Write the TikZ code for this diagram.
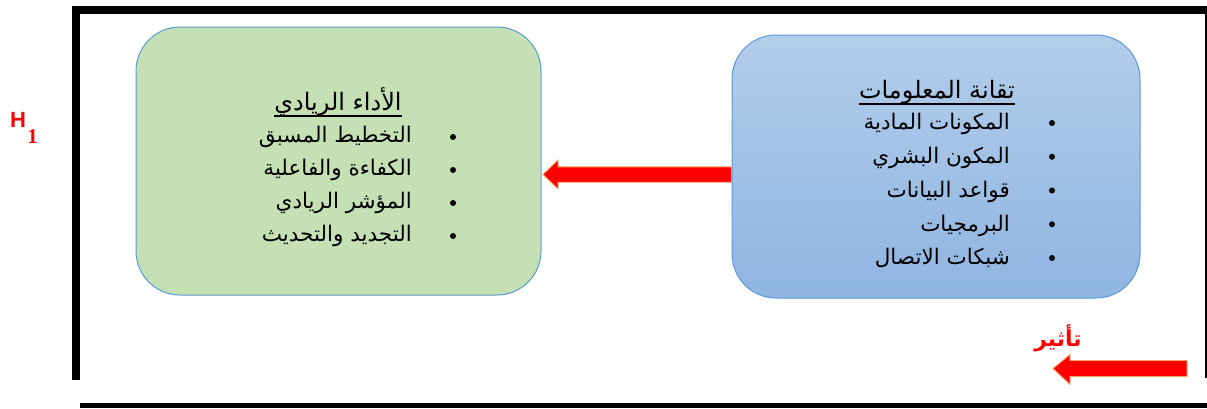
\documentclass[tikz,border=0pt]{standalone}
\usepackage{fontspec}
\setmainfont{Liberation Sans}
\newfontfamily\arabicfont[Script=Arabic]{DejaVu Sans}
\newfontfamily\serifbold{Liberation Serif}
\TeXXeTstate=1
\usetikzlibrary{calc}
\definecolor{boxline}{HTML}{5B9BD5}
\definecolor{greenfill}{HTML}{C5E0B4}
\definecolor{bluetop}{HTML}{B3CDEA}
\definecolor{bluebot}{HTML}{8FB5E2}
\definecolor{arrline}{HTML}{F4A460}
\tikzset{
  roundbox/.style={draw=boxline, line width=1pt, rounded corners=44pt, inner sep=0pt},
  ar/.style={font=\arabicfont\fontsize{21.5}{24}\selectfont, inner sep=0pt},
  artitle/.style={font=\arabicfont\fontsize{24}{26}\selectfont, inner sep=0pt},
  bul/.style={circle, fill=black, inner sep=0pt, minimum size=6pt},
  blockarr/.style={fill=red, draw=arrline, line width=0.9pt, line join=miter},
}
\begin{document}
\begin{tikzpicture}[x=1pt,y=-1pt]
\useasboundingbox (0,0) rectangle (1207,408);
% frame
\fill[black] (72,6) rectangle (1207,14);
\fill[black] (72,6) rectangle (80,380);
\fill[black] (1204.5,6) rectangle (1207,378);
\fill[black] (80,403) rectangle (1207,408);
% boxes
\node[roundbox, fill=greenfill, minimum width=405pt, minimum height=268pt] (green) at (338.5,161) {};
\node[roundbox, top color=bluetop, bottom color=bluebot, minimum width=408pt, minimum height=263pt] (blue) at (936,166.5) {};
% green box texts
\node[artitle, anchor=base] (gt) at (338,110) {\beginR الأداء الريادي\endR};
\draw[line width=1.6pt] ([yshift=-6pt]gt.base west) -- ([yshift=-6pt]gt.base east);
\foreach \t [count=\i] in {التخطيط المسبق,الكفاءة والفاعلية,المؤشر الريادي,التجديد والتحديث}{
  \node[ar, anchor=base east] (g\i) at (412,{109+33*\i}) {\beginR \t\endR};
  \node[bul] (gb\i) at (453,{137+33*(\i-1)}) {};
}
% blue box texts
\node[artitle, anchor=base] (bt) at (937,98) {\beginR تقانة المعلومات\endR};
\draw[line width=1.6pt] ([yshift=-6pt]bt.base west) -- ([yshift=-6pt]bt.base east);
\foreach \t [count=\i] in {المكونات المادية,المكون البشري,قواعد البيانات,البرمجيات,شبكات الاتصال}{
  \node[ar, anchor=base east] (b\i) at (1010,{96+33.75*\i}) {\beginR \t\endR};
  \node[bul] (bb\i) at (1052,{123+33.75*(\i-1)}) {};
}
% middle arrow: from blue box to green box
\coordinate (mstart) at (blue.west |- 0,174.5);
\coordinate (mtip) at ($(green.east |- 0,174.5)+(1.5,0)$);
\draw[blockarr] ($(mstart)+(0,-7.7)$) -- ($(mtip)+(15,-7.7)$) -- ($(mtip)+(15,-14.5)$) -- (mtip) -- ($(mtip)+(15,14.5)$) -- ($(mtip)+(15,7.7)$) -- ($(mstart)+(0,7.7)$) -- cycle;
% bottom arrow
\coordinate (bs) at (1187,368.5);
\coordinate (bt2) at (1053,368.5);
\draw[blockarr] ($(bs)+(0,-8)$) -- ($(bt2)+(17,-8)$) -- ($(bt2)+(17,-14)$) -- (bt2) -- ($(bt2)+(17,16)$) -- ($(bt2)+(17,8)$) -- ($(bs)+(0,8)$) -- cycle;
\node[font=\arabicfont\bfseries\fontsize{22}{24}\selectfont, text=red, inner sep=0pt] (ta) at (1058,338) {\beginR تأثير\endR};
% H1
\node[text=red, font=\bfseries\fontsize{22}{24}\selectfont, inner sep=0pt, anchor=base west] (h) at (10,127) {H};
\node[text=red, font=\serifbold\bfseries\fontsize{21}{22}\selectfont, inner sep=0pt, anchor=base west] (h1sub) at ([xshift=1pt,yshift=-16pt]h.base east) {1};
\end{tikzpicture}
\end{document}
